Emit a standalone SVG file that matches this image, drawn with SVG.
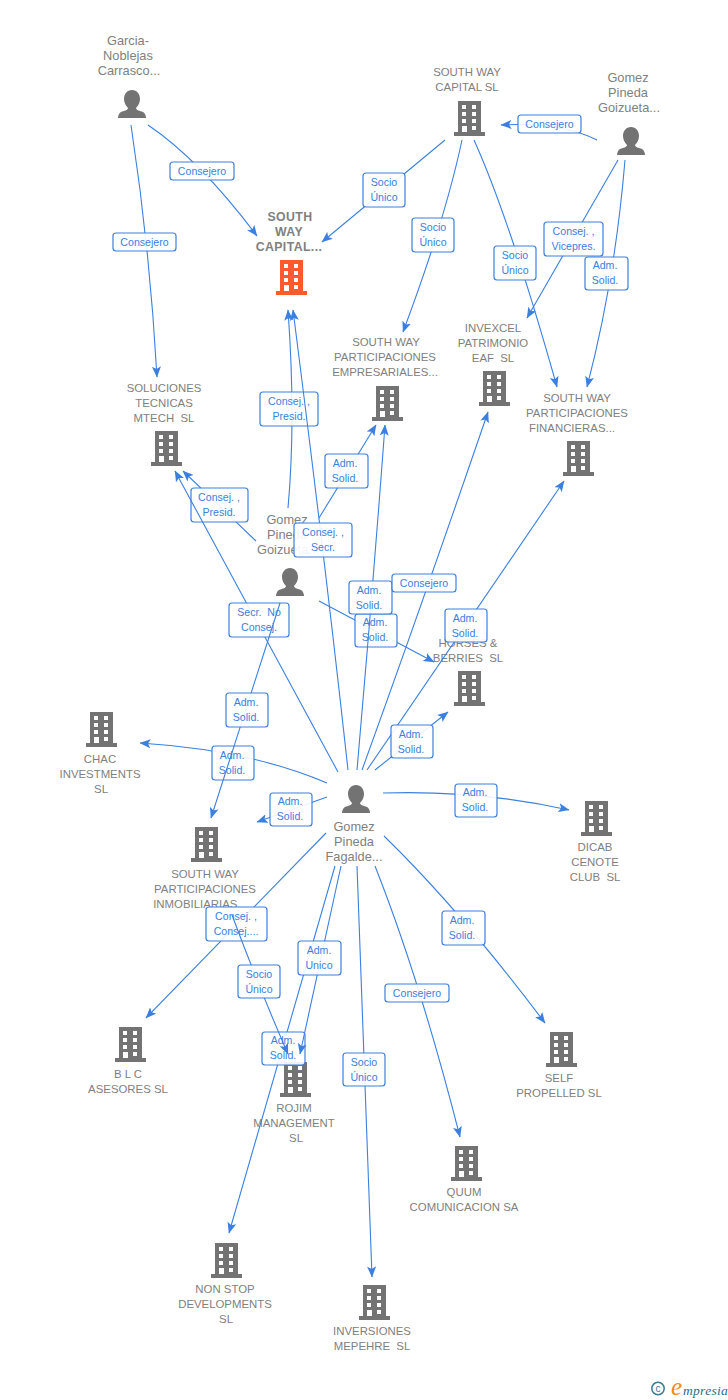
<svg xmlns="http://www.w3.org/2000/svg" width="728" height="1400" viewBox="0 0 728 1400">
<style>
text{font-family:"Liberation Sans",Arial,sans-serif;white-space:pre}
.n{font-size:11.4px;fill:#808080;text-anchor:middle}
.p{font-size:12.800px;fill:#808080;text-anchor:middle}
.m{font-size:12.300px;fill:#808080;text-anchor:middle;font-weight:bold;letter-spacing:.4px}
.c{fill:none;stroke:#3b80e0;stroke-width:1.1;marker-end:url(#a)}
.b{fill:#fff;fill-opacity:.9;stroke:#3b80e0;stroke-width:1.2}
.t{font-size:10.6px;fill:#3b80e0;text-anchor:middle}
</style>
<defs>
<marker id="a" markerUnits="userSpaceOnUse" markerWidth="12" markerHeight="10" refX="10.500" refY="5" orient="auto" viewBox="0 0 12 10"><path d="M0 0.500L11 5L0 9.500L2.500 5Z" fill="#3b80e0"/></marker>
<g id="bld"><path d="M4 0H27V31H31V35H0V31H4ZM8 4V8H12V4ZM18 4V8H22V4ZM8 11V15H12V11ZM18 11V15H22V11ZM8 18V22H12V18ZM18 18V22H22V18ZM8 25V31H13V25ZM18 25V29H22V25Z" fill-rule="evenodd"/></g>
<path id="per" d="M14 0C19 0 22 4 22 9C22 13 20 16 18 18C18 20 22 21 25 22C27 23 28 26 28 28H0C0 26 1 23 3 22C6 21 10 20 10 18C8 16 6 13 6 9C6 4 9 0 14 0Z"/>
</defs>
<g id="node-main" class="node"><text class="m" x="290" y="221">SOUTH</text><text class="m" x="289" y="236">WAY</text><text class="m" x="289" y="251">CAPITAL...</text><use href="#bld" x="276" y="260" fill="#ff5a2b"/></g>
<g fill="#737373">
<g id="node-garcia"><text class="p" x="128" y="45">Garcia-</text><text class="p" x="128" y="60">Noblejas</text><text class="p" x="129" y="75">Carrasco...</text><use href="#per" x="118" y="90"/></g>
<g id="node-swc"><text class="n" x="467" y="76">SOUTH WAY</text><text class="n" x="467" y="91">CAPITAL SL</text><use href="#bld" x="454" y="101"/></g>
<g id="node-goizueta1"><text class="p" x="628" y="82">Gomez</text><text class="p" x="628" y="97">Pineda</text><text class="p" x="629" y="112">Goizueta...</text><use href="#per" x="617" y="127"/></g>
<g id="node-emp"><text class="n" x="386" y="346">SOUTH WAY</text><text class="n" x="385" y="361">PARTICIPACIONES</text><text class="n" x="385" y="376">EMPRESARIALES...</text><use href="#bld" x="372" y="386"/></g>
<g id="node-invexcel"><text class="n" x="493" y="332">INVEXCEL</text><text class="n" x="493" y="347">PATRIMONIO</text><text class="n" x="493" y="362">EAF  SL</text><use href="#bld" x="479" y="371"/></g>
<g id="node-fin"><text class="n" x="577" y="402">SOUTH WAY</text><text class="n" x="577" y="417">PARTICIPACIONES</text><text class="n" x="572" y="432">FINANCIERAS...</text><use href="#bld" x="563" y="441"/></g>
<g id="node-mtech"><text class="n" x="164" y="392">SOLUCIONES</text><text class="n" x="164" y="407">TECNICAS</text><text class="n" x="164" y="422">MTECH  SL</text><use href="#bld" x="151" y="431"/></g>
<g id="node-goizueta2"><text class="p" x="287" y="524">Gomez</text><text class="p" x="287" y="539">Pineda</text><text class="p" x="288" y="554">Goizueta...</text><use href="#per" x="276" y="568"/></g>
<g id="node-horses"><text class="n" x="468" y="647">HORSES &amp;</text><text class="n" x="468" y="662">BERRIES  SL</text><use href="#bld" x="454" y="671"/></g>
<g id="node-chac"><use href="#bld" x="86" y="712"/><text class="n" x="100" y="763">CHAC</text><text class="n" x="100" y="778">INVESTMENTS</text><text class="n" x="101" y="793">SL</text></g>
<g id="node-fagalde"><use href="#per" x="342" y="785"/><text class="p" x="354" y="831">Gomez</text><text class="p" x="354" y="846">Pineda</text><text class="p" x="354" y="861">Fagalde...</text></g>
<g id="node-dicab"><use href="#bld" x="581" y="801"/><text class="n" x="595" y="851">DICAB</text><text class="n" x="595" y="866">CENOTE</text><text class="n" x="595" y="881">CLUB  SL</text></g>
<g id="node-inmo"><use href="#bld" x="191" y="827"/><text class="n" x="205" y="878">SOUTH WAY</text><text class="n" x="205" y="893">PARTICIPACIONES</text><text class="n" x="200" y="908">INMOBILIARIAS...</text></g>
<g id="node-blc"><use href="#bld" x="115" y="1027"/><text class="n" x="128" y="1078">B L C</text><text class="n" x="128" y="1093">ASESORES SL</text></g>
<g id="node-self"><use href="#bld" x="546" y="1032"/><text class="n" x="559" y="1082">SELF</text><text class="n" x="559" y="1097">PROPELLED SL</text></g>
<g id="node-rojim"><use href="#bld" x="280" y="1062"/><text class="n" x="294" y="1112">ROJIM</text><text class="n" x="294" y="1127">MANAGEMENT</text><text class="n" x="296" y="1142">SL</text></g>
<g id="node-quum"><use href="#bld" x="451" y="1146"/><text class="n" x="464" y="1196">QUUM</text><text class="n" x="464" y="1211">COMUNICACION SA</text></g>
<g id="node-nonstop"><use href="#bld" x="211" y="1243"/><text class="n" x="225" y="1293">NON STOP</text><text class="n" x="225" y="1308">DEVELOPMENTS</text><text class="n" x="226" y="1323">SL</text></g>
<g id="node-mepehre"><use href="#bld" x="359" y="1285"/><text class="n" x="372" y="1335">INVERSIONES</text><text class="n" x="372" y="1350">MEPEHRE  SL</text></g>
</g>
<g id="connectors">
<path class="c" d="M131 125Q150 250 157 377"/><rect class="b" x="113" y="233" width="63" height="18" rx="3"/><text class="t" x="144.500" y="246">Consejero</text>
<path class="c" d="M148 125Q200 160 257 236"/><rect class="b" x="170" y="162" width="64" height="18" rx="3"/><text class="t" x="202" y="175">Consejero</text>
<path class="c" d="M445 140L322 242"/><rect class="b" x="363" y="173" width="42" height="34" rx="3"/><text class="t" x="384" y="186">Socio</text><text class="t" x="384" y="201">Único</text>
<path class="c" d="M462 140Q445 220 403 332"/><rect class="b" x="412" y="218" width="42" height="34" rx="3"/><text class="t" x="433" y="231">Socio</text><text class="t" x="433" y="246">Único</text>
<path class="c" d="M474 140Q510 220 557 387"/><rect class="b" x="494" y="246" width="42" height="34" rx="3"/><text class="t" x="515" y="259">Socio</text><text class="t" x="515" y="274">Único</text>
<path class="c" d="M597 140Q560 122 501 125"/><rect class="b" x="518" y="115" width="63" height="18" rx="3"/><text class="t" x="549.500" y="128">Consejero</text>
<path class="c" d="M618 160L527 318"/><rect class="b" x="544" y="222" width="59" height="34" rx="3"/><text class="t" x="573.500" y="235">Consej. ,</text><text class="t" x="573.500" y="250">Vicepres.</text>
<path class="c" d="M625 160Q615 280 587 387"/><rect class="b" x="585" y="257" width="43" height="33" rx="3"/><text class="t" x="605" y="269">Adm.</text><text class="t" x="605" y="284">Solid.</text>
<path class="c" d="M288 508Q296 420 288 310"/><rect class="b" x="260" y="392" width="58" height="34" rx="3"/><text class="t" x="289" y="405">Consej. ,</text><text class="t" x="289" y="420">Presid.</text>
<path class="c" d="M256 541L183 471"/><rect class="b" x="191" y="488" width="57" height="34" rx="3"/><text class="t" x="219" y="501">Consej. ,</text><text class="t" x="219" y="516">Presid.</text>
<path class="c" d="M319 518L376 425"/><rect class="b" x="325" y="454" width="43" height="34" rx="3"/><text class="t" x="345" y="467">Adm.</text><text class="t" x="345" y="482">Solid.</text>
<path class="c" d="M348 770Q325 560 293 310"/><rect class="b" x="294" y="523" width="58" height="34" rx="3"/><text class="t" x="323" y="536">Consej. ,</text><text class="t" x="323" y="551">Secr.</text>
<path class="c" d="M338 772L175 471"/><rect class="b" x="229" y="603" width="60" height="34" rx="3"/><text class="t" x="259" y="616">Secr.  No</text><text class="t" x="259" y="631">Consej.</text>
<path class="c" d="M319 601L434 662"/><rect class="b" x="355" y="614" width="42" height="33" rx="3"/><text class="t" x="375" y="626">Adm.</text><text class="t" x="375" y="641">Solid.</text>
<path class="c" d="M357 770Q372 600 385 425"/><rect class="b" x="349" y="581" width="43" height="33" rx="3"/><text class="t" x="369" y="594">Adm.</text><text class="t" x="369" y="609">Solid.</text>
<path class="c" d="M362 770Q420 610 488 412"/><rect class="b" x="392" y="574" width="64" height="18" rx="3"/><text class="t" x="424" y="587">Consejero</text>
<path class="c" d="M367 770L564 481"/><rect class="b" x="445" y="609" width="42" height="33" rx="3"/><text class="t" x="465" y="622">Adm.</text><text class="t" x="465" y="637">Solid.</text>
<path class="c" d="M375 770L448 712"/><rect class="b" x="391" y="725" width="42" height="33" rx="3"/><text class="t" x="411" y="738">Adm.</text><text class="t" x="411" y="753">Solid.</text>
<path class="c" d="M383 793Q480 790 569 810"/><rect class="b" x="455" y="784" width="42" height="33" rx="3"/><text class="t" x="475" y="796">Adm.</text><text class="t" x="475" y="811">Solid.</text>
<path class="c" d="M384 836Q460 910 545 1023"/><rect class="b" x="442" y="911" width="43" height="34" rx="3"/><text class="t" x="462" y="924">Adm.</text><text class="t" x="462" y="939">Solid.</text>
<path class="c" d="M375 866Q420 980 460 1137"/><rect class="b" x="385" y="984" width="64" height="18" rx="3"/><text class="t" x="417" y="997">Consejero</text>
<path class="c" d="M357 866Q364 1070 372 1277"/><rect class="b" x="343" y="1053" width="42" height="33" rx="3"/><text class="t" x="364" y="1066">Socio</text><text class="t" x="364" y="1081">Único</text>
<path class="c" d="M327 783Q250 750 140 743"/><rect class="b" x="212" y="746" width="42" height="34" rx="3"/><text class="t" x="232" y="759">Adm.</text><text class="t" x="232" y="774">Solid.</text>
<path class="c" d="M327 797L257 822"/><rect class="b" x="270" y="793" width="42" height="33" rx="3"/><text class="t" x="290" y="805">Adm.</text><text class="t" x="290" y="820">Solid.</text>
<path class="c" d="M280 603L211 818"/><rect class="b" x="226" y="693" width="42" height="34" rx="3"/><text class="t" x="246" y="706">Adm.</text><text class="t" x="246" y="721">Solid.</text>
<path class="c" d="M326 833L146 1018"/><rect class="b" x="206" y="907" width="61" height="34" rx="3"/><text class="t" x="236" y="920">Consej. ,</text><text class="t" x="236" y="935">Consej....</text>
<path class="c" d="M335 866L229 1233"/><rect class="b" x="262" y="1032" width="43" height="33" rx="3"/><text class="t" x="283" y="1044">Adm.</text><text class="t" x="283" y="1059">Solid.</text>
<path class="c" d="M341 866L300 1054"/><rect class="b" x="298" y="941" width="43" height="34" rx="3"/><text class="t" x="319" y="954">Adm.</text><text class="t" x="319" y="969">Unico</text>
<path class="c" d="M232 915Q260 990 288 1054"/><rect class="b" x="238" y="965" width="42" height="33" rx="3"/><text class="t" x="259" y="978">Socio</text><text class="t" x="259" y="993">Único</text>
</g>
<g id="logo"><circle cx="658" cy="1388.500" r="6.200" fill="none" stroke="#3a7a95" stroke-width="1.500"/><text x="658" y="1392" font-size="10" fill="#3a7a95" text-anchor="middle">c</text><text x="671" y="1395" style="font-family:'Liberation Serif',serif" font-size="25" font-style="italic" fill="#f58a1f">e</text><text x="683" y="1395" style="font-family:'Liberation Serif',serif" font-size="13.500" font-style="italic" fill="#1f6f85" letter-spacing=".3">mpresia</text></g>
</svg>
